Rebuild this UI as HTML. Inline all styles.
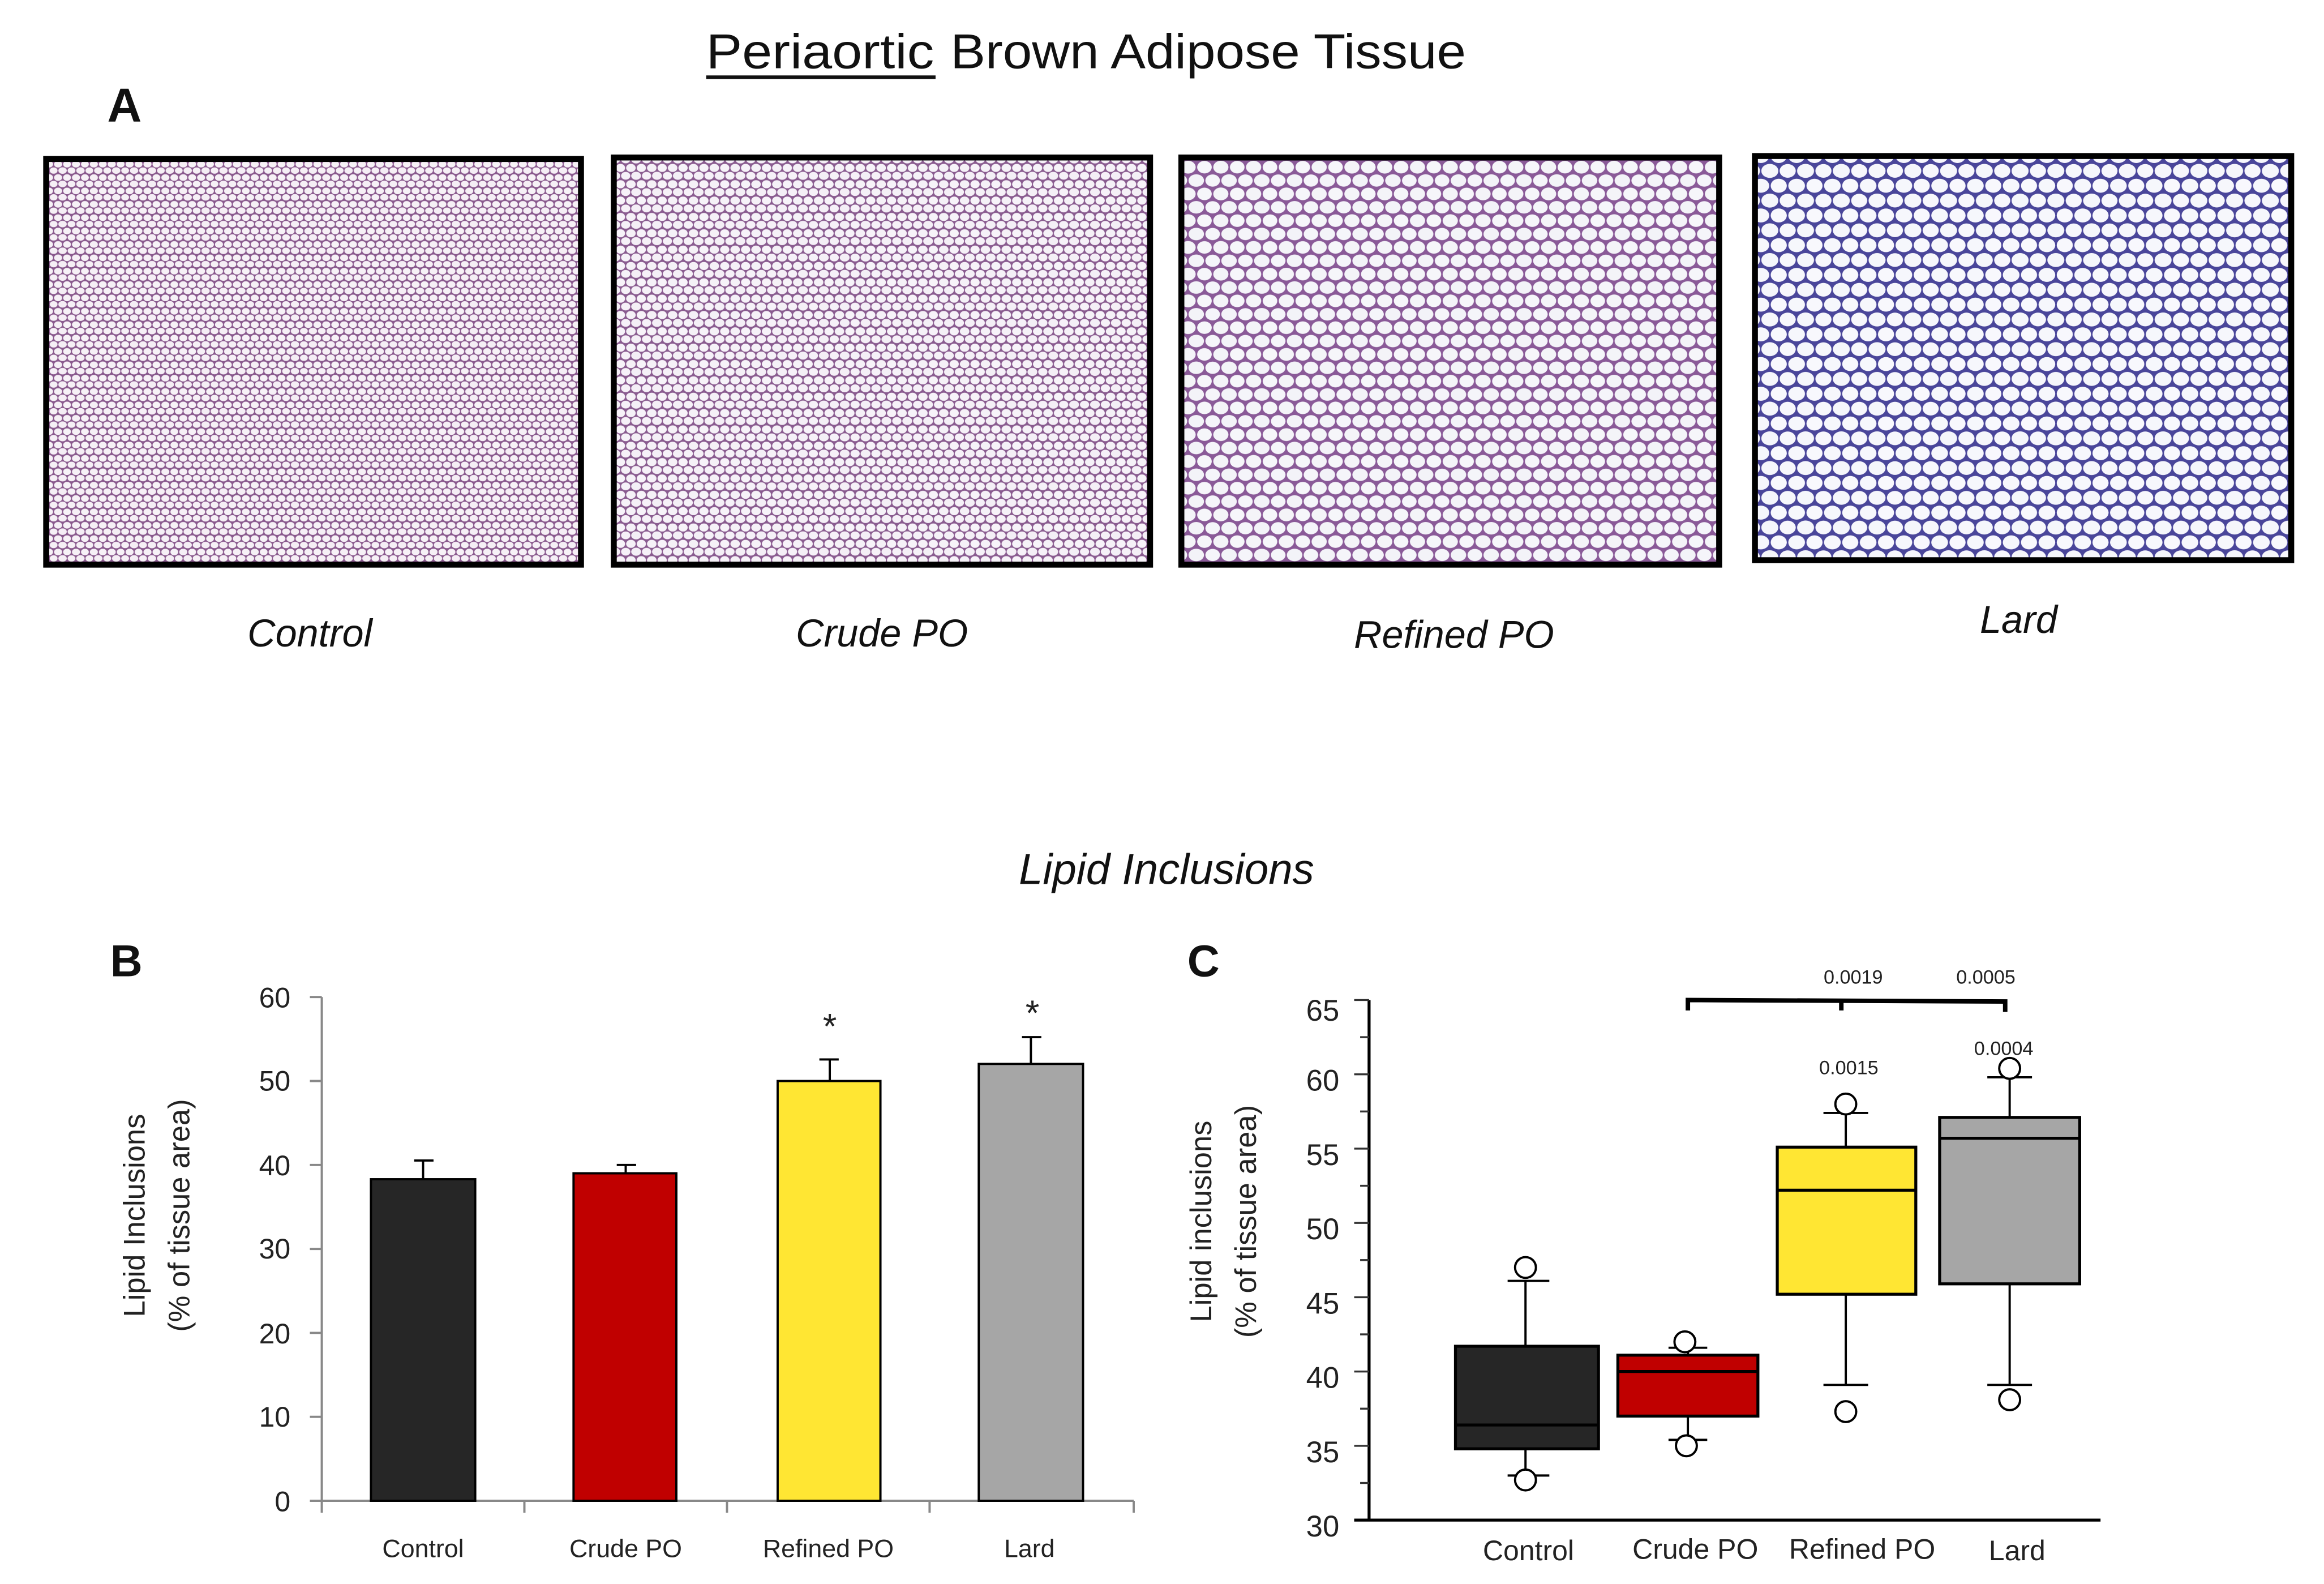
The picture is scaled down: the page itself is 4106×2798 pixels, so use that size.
<!DOCTYPE html>
<html><head><meta charset="utf-8"><style>
html,body{margin:0;padding:0;background:#fff;}
svg{display:block;}
text{font-family:"Liberation Sans",sans-serif;}
</style></head><body>
<svg width="4106" height="2798" viewBox="0 0 1560 1066" preserveAspectRatio="none" xmlns="http://www.w3.org/2000/svg">
<defs>
<pattern id="p1" width="12" height="9" patternUnits="userSpaceOnUse">
<rect width="12" height="9" fill="#8a5a8e"/>
<ellipse cx="3" cy="2.5" rx="2.7" ry="2.2" fill="#f6f0f6"/>
<ellipse cx="9" cy="2.5" rx="2.6" ry="2.2" fill="#f7f2f7"/>
<ellipse cx="6" cy="6.8" rx="2.8" ry="2.2" fill="#f5eef5"/>
<ellipse cx="0" cy="6.8" rx="2.6" ry="2.1" fill="#f6f0f6"/>
<ellipse cx="12" cy="6.8" rx="2.6" ry="2.1" fill="#f6f0f6"/>
</pattern>
<pattern id="p2" width="14" height="11" patternUnits="userSpaceOnUse">
<rect width="14" height="11" fill="#8a5c90"/>
<ellipse cx="3.5" cy="3" rx="3.2" ry="2.7" fill="#f5f1f7"/>
<ellipse cx="10.5" cy="3" rx="3.1" ry="2.7" fill="#f7f3f9"/>
<ellipse cx="7" cy="8.3" rx="3.3" ry="2.7" fill="#f4eff6"/>
<ellipse cx="0" cy="8.3" rx="3.1" ry="2.6" fill="#f6f1f8"/>
<ellipse cx="14" cy="8.3" rx="3.1" ry="2.6" fill="#f6f1f8"/>
</pattern>
<pattern id="p3" width="22" height="18" patternUnits="userSpaceOnUse">
<rect width="22" height="18" fill="#8a5a98"/>
<ellipse cx="5.5" cy="4.5" rx="5.1" ry="4.3" fill="#f4f4f8"/>
<ellipse cx="16.5" cy="4.5" rx="4.9" ry="4.2" fill="#f6f6fa"/>
<ellipse cx="11" cy="13.5" rx="5.2" ry="4.2" fill="#f3f3f8"/>
<ellipse cx="0" cy="13.5" rx="4.9" ry="4.1" fill="#f5f5fa"/>
<ellipse cx="22" cy="13.5" rx="4.9" ry="4.1" fill="#f5f5fa"/>
</pattern>
<pattern id="p4" width="24" height="20" patternUnits="userSpaceOnUse">
<rect width="24" height="20" fill="#4a469a"/>
<ellipse cx="6" cy="5" rx="5.6" ry="4.7" fill="#f6f7fc"/>
<ellipse cx="18" cy="5" rx="5.4" ry="4.7" fill="#f8f8fd"/>
<ellipse cx="12" cy="15" rx="5.7" ry="4.7" fill="#f5f6fb"/>
<ellipse cx="0" cy="15" rx="5.4" ry="4.6" fill="#f7f7fc"/>
<ellipse cx="24" cy="15" rx="5.4" ry="4.6" fill="#f7f7fc"/>
</pattern>
</defs>

<!-- Title -->
<text x="474" y="46" font-size="33" fill="#111" textLength="153" lengthAdjust="spacingAndGlyphs">Periaortic</text>
<text x="638" y="46" font-size="33" fill="#111" textLength="346" lengthAdjust="spacingAndGlyphs">Brown Adipose Tissue</text>
<line x1="474" y1="52" x2="628" y2="52" stroke="#111" stroke-width="2.5"/>
<text x="72" y="82" font-size="32" font-weight="bold" fill="#111">A</text>

<!-- Panels -->
<rect x="31" y="107" width="359" height="273" fill="url(#p1)" stroke="#000" stroke-width="4"/>
<rect x="412" y="106" width="360" height="274" fill="url(#p2)" stroke="#000" stroke-width="4"/>
<rect x="793" y="106" width="361" height="274" fill="url(#p3)" stroke="#000" stroke-width="4"/>
<rect x="1178" y="105" width="360" height="272" fill="url(#p4)" stroke="#000" stroke-width="4"/>

<g font-size="26" font-style="italic" text-anchor="middle" fill="#111">
<text x="208" y="435">Control</text>
<text x="592" y="435">Crude PO</text>
<text x="976" y="436">Refined PO</text>
<text x="1355" y="426">Lard</text>
</g>

<text x="783" y="595" font-size="29" font-style="italic" text-anchor="middle" fill="#111">Lipid Inclusions</text>

<!-- Chart B -->
<text x="74" y="657" font-size="30" font-weight="bold" fill="#111">B</text>
<g stroke="#888" stroke-width="1.5" fill="none">
<line x1="216" y1="671" x2="216" y2="1010"/>
<line x1="216" y1="1010" x2="761" y2="1010"/>
<line x1="208" y1="671" x2="216" y2="671"/>
<line x1="208" y1="727.5" x2="216" y2="727.5"/>
<line x1="208" y1="784" x2="216" y2="784"/>
<line x1="208" y1="840.5" x2="216" y2="840.5"/>
<line x1="208" y1="897" x2="216" y2="897"/>
<line x1="208" y1="953.5" x2="216" y2="953.5"/>
<line x1="208" y1="1010" x2="216" y2="1010"/>
<line x1="216" y1="1010" x2="216" y2="1018"/>
<line x1="352" y1="1010" x2="352" y2="1018"/>
<line x1="488" y1="1010" x2="488" y2="1018"/>
<line x1="624" y1="1010" x2="624" y2="1018"/>
<line x1="761" y1="1010" x2="761" y2="1018"/>
</g>
<g font-size="19" text-anchor="end" fill="#222">
<text x="195" y="678">60</text><text x="195" y="734">50</text><text x="195" y="791">40</text>
<text x="195" y="847">30</text><text x="195" y="904">20</text><text x="195" y="960">10</text><text x="195" y="1017">0</text>
</g>
<g stroke="#000" stroke-width="1.5">
<line x1="284" y1="794" x2="284" y2="781"/><line x1="278" y1="781" x2="291" y2="781"/>
<line x1="420" y1="790" x2="420" y2="784"/><line x1="414" y1="784" x2="427" y2="784"/>
<line x1="557" y1="728" x2="557" y2="713"/><line x1="550" y1="713" x2="563" y2="713"/>
<line x1="692" y1="716" x2="692" y2="698"/><line x1="686" y1="698" x2="699" y2="698"/>
</g>
<rect x="249" y="793.6" width="70" height="216.4" fill="#262626" stroke="#000" stroke-width="1.5"/>
<rect x="385" y="789.6" width="69" height="220.4" fill="#c00000" stroke="#000" stroke-width="1.5"/>
<rect x="522" y="727.5" width="69" height="282.5" fill="#ffe633" stroke="#000" stroke-width="1.5"/>
<rect x="657" y="716" width="70" height="294" fill="#a6a6a6" stroke="#000" stroke-width="1.5"/>
<g font-size="24" text-anchor="middle" fill="#222">
<text x="557" y="699">*</text><text x="693" y="690">*</text>
</g>
<g font-size="17" text-anchor="middle" fill="#222">
<text x="284" y="1048">Control</text><text x="420" y="1048">Crude PO</text>
<text x="556" y="1048">Refined PO</text><text x="691" y="1048">Lard</text>
</g>
<g font-size="20" text-anchor="middle" fill="#222">
<text transform="translate(97,818) rotate(-90)">Lipid Inclusions</text>
<text transform="translate(127,818) rotate(-90)">(% of tissue area)</text>
</g>

<!-- Chart C -->
<text x="797" y="657" font-size="30" font-weight="bold" fill="#111">C</text>
<g stroke="#000" stroke-width="2" fill="none">
<line x1="919" y1="673" x2="919" y2="1023"/>
<line x1="909" y1="1023" x2="1410" y2="1023"/>
</g>
<g stroke="#333" stroke-width="1.3">
<line x1="909" y1="673" x2="919" y2="673"/><line x1="913" y1="698" x2="919" y2="698"/>
<line x1="909" y1="723" x2="919" y2="723"/><line x1="913" y1="748" x2="919" y2="748"/>
<line x1="909" y1="773" x2="919" y2="773"/><line x1="913" y1="798" x2="919" y2="798"/>
<line x1="909" y1="823" x2="919" y2="823"/><line x1="913" y1="848" x2="919" y2="848"/>
<line x1="909" y1="873" x2="919" y2="873"/><line x1="913" y1="898" x2="919" y2="898"/>
<line x1="909" y1="923" x2="919" y2="923"/><line x1="913" y1="948" x2="919" y2="948"/>
<line x1="909" y1="973" x2="919" y2="973"/><line x1="913" y1="998" x2="919" y2="998"/>
</g>
<g font-size="20" text-anchor="end" fill="#222">
<text x="899" y="687">65</text><text x="899" y="734">60</text><text x="899" y="784">55</text>
<text x="899" y="834">50</text><text x="899" y="884">45</text><text x="899" y="934">40</text>
<text x="899" y="984">35</text><text x="899" y="1034">30</text>
</g>
<g stroke="#000" stroke-width="1.5" fill="none">
<line x1="1024" y1="906" x2="1024" y2="862"/><line x1="1012" y1="862" x2="1040" y2="862"/>
<line x1="1024" y1="975" x2="1024" y2="993"/><line x1="1012" y1="993" x2="1040" y2="993"/>
<circle cx="1024" cy="853" r="7" fill="#fff"/><circle cx="1024" cy="996" r="7" fill="#fff"/>
<line x1="1133" y1="912" x2="1133" y2="907"/><line x1="1120" y1="907" x2="1146" y2="907"/>
<line x1="1133" y1="953" x2="1133" y2="969"/><line x1="1120" y1="969" x2="1146" y2="969"/>
<circle cx="1131" cy="903" r="7" fill="#fff"/><circle cx="1132" cy="973" r="7" fill="#fff"/>
<line x1="1239" y1="772" x2="1239" y2="749"/><line x1="1224" y1="749" x2="1254" y2="749"/>
<line x1="1239" y1="871" x2="1239" y2="932"/><line x1="1224" y1="932" x2="1254" y2="932"/>
<circle cx="1239" cy="743" r="7" fill="#fff"/><circle cx="1239" cy="950" r="7" fill="#fff"/>
<line x1="1349" y1="752" x2="1349" y2="725"/><line x1="1334" y1="725" x2="1364" y2="725"/>
<line x1="1349" y1="864" x2="1349" y2="932"/><line x1="1334" y1="932" x2="1364" y2="932"/>
<circle cx="1349" cy="719" r="7" fill="#fff"/><circle cx="1349" cy="942" r="7" fill="#fff"/>
</g>
<g stroke="#000" stroke-width="2">
<rect x="977" y="906" width="96" height="69" fill="#262626"/>
<line x1="977" y1="959" x2="1073" y2="959"/>
<rect x="1086" y="912" width="94" height="41" fill="#c00000"/>
<line x1="1086" y1="923" x2="1180" y2="923"/>
<rect x="1193" y="772" width="93" height="99" fill="#ffe633"/>
<line x1="1193" y1="801" x2="1286" y2="801"/>
<rect x="1302" y="752" width="94" height="112" fill="#a6a6a6"/>
<line x1="1302" y1="766" x2="1396" y2="766"/>
</g>
<g stroke="#000" stroke-width="3" fill="none">
<polyline points="1133,680 1133,673 1346,674 1346,681"/>
<line x1="1236" y1="673" x2="1236" y2="680"/>
</g>
<g font-size="13" text-anchor="middle" fill="#222">
<text x="1244" y="662">0.0019</text><text x="1333" y="662">0.0005</text>
<text x="1241" y="723">0.0015</text><text x="1345" y="710">0.0004</text>
</g>
<g font-size="19" text-anchor="middle" fill="#222">
<text x="1026" y="1050">Control</text><text x="1138" y="1049">Crude PO</text>
<text x="1250" y="1049">Refined PO</text><text x="1354" y="1050">Lard</text>
</g>
<g font-size="20" text-anchor="middle" fill="#222">
<text transform="translate(813,822) rotate(-90)">Lipid inclusions</text>
<text transform="translate(843,822) rotate(-90)">(% of tissue area)</text>
</g>
</svg>
</body></html>
